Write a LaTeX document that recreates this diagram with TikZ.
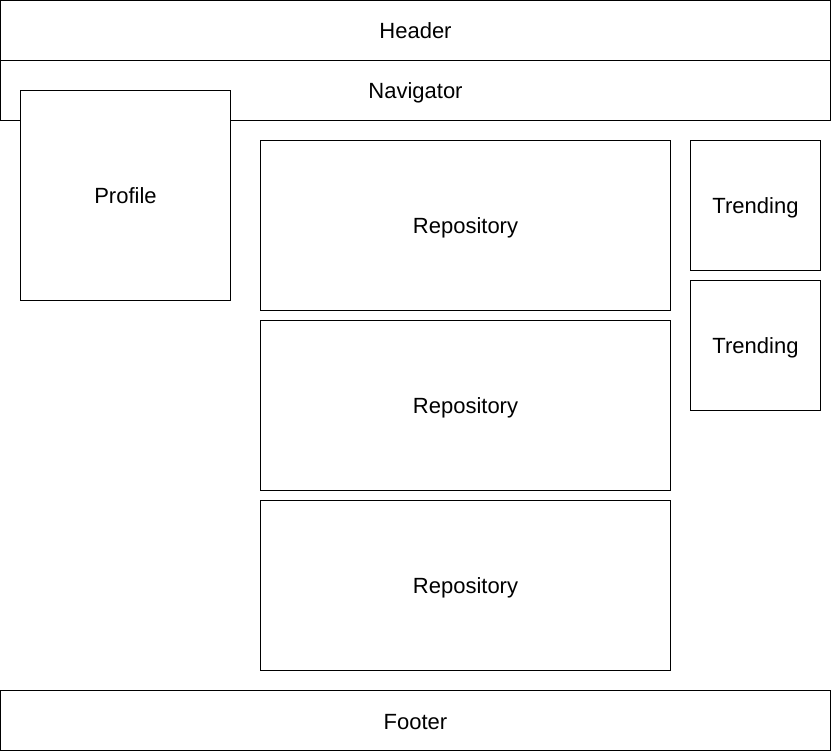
\documentclass[tikz,border=0pt]{standalone}
\usepackage{fontspec}
\setmainfont{Liberation Sans}
\usepackage{tikz}
\usetikzlibrary{positioning}

\begin{document}
\begin{tikzpicture}[x=1pt, y=-1pt,
        box/.style={draw, line width=1pt, fill=white, inner sep=0pt,
            text height=19pt, text depth=2pt,
            font=\fontsize{22}{26}\selectfont}]
        \useasboundingbox (0,0) rectangle (831,751);

        % top bars
        \node[box, minimum width=830pt, minimum height=60pt] (header) at (415.5,30.5) {Header};
        \node[box, minimum width=830pt, minimum height=60pt] (navigator) at (415.5,90.5) {Navigator};

        % left column
        \node[box, minimum width=210pt, minimum height=210pt] (profile) at (125.5,195.5) {Profile};

        % repositories
        \foreach \y/\name in {225.5/repoA, 405.5/repoB, 585.5/repoC}
            \node[box, minimum width=410pt, minimum height=170pt] (\name) at (465.5,\y) {Repository};

        % right column
        \foreach \y/\name in {205.5/trendA, 345.5/trendB}
            \node[box, minimum width=130pt, minimum height=130pt] (\name) at (755.5,\y) {Trending};

        % bottom bar
        \node[box, minimum width=830pt, minimum height=60pt] (footer) at (415.5,720.5) {Footer};
\end{tikzpicture}
\end{document}
